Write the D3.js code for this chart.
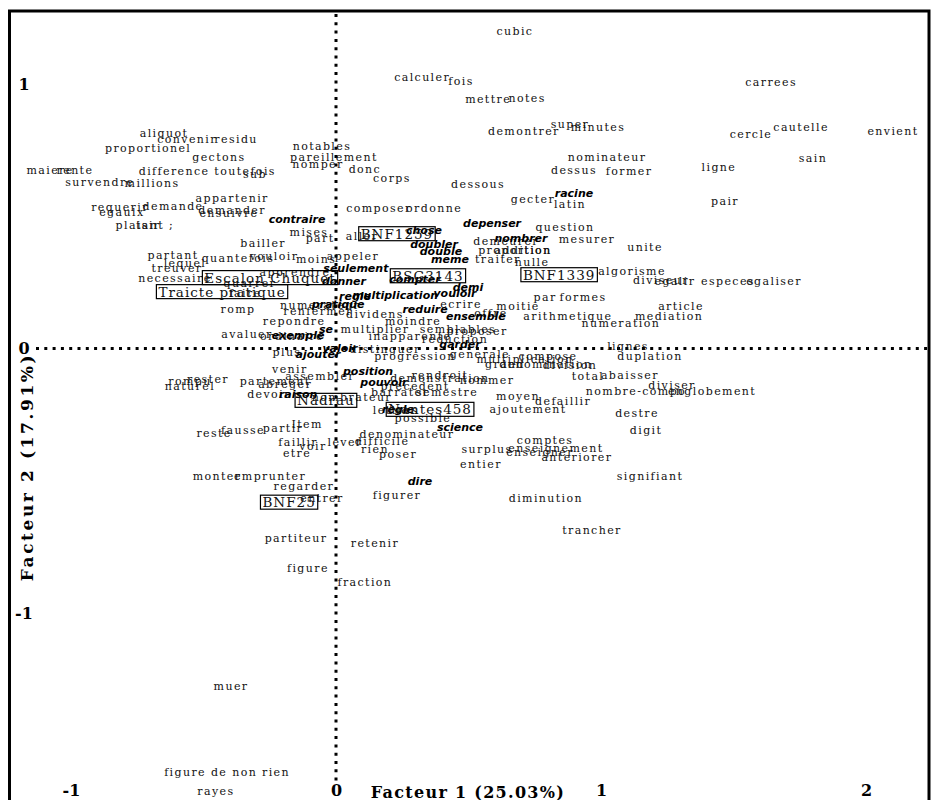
<!DOCTYPE html>
<html><head><meta charset="utf-8">
<script src="https://d3js.org/d3.v7.min.js"></script>
<style>
html,body{margin:0;padding:0;background:#fff;}
svg{display:block;}
.w{font-family:"DejaVu Serif",serif;font-size:11px;letter-spacing:1.4px;fill:#111;}
.k{font-family:"DejaVu Sans",sans-serif;font-size:11px;font-weight:bold;font-style:italic;fill:#000;}
.s{font-family:"DejaVu Serif",serif;font-size:13.5px;letter-spacing:1px;fill:#111;}
.tick text{font-family:"DejaVu Serif",serif;font-size:16px;font-weight:bold;fill:#000;}
.ttl{font-family:"DejaVu Serif",serif;font-size:16px;font-weight:bold;letter-spacing:1.3px;fill:#000;}
.ttly{font-family:"DejaVu Serif",serif;font-size:17px;font-weight:bold;letter-spacing:2.6px;fill:#000;}
</style></head>
<body>
<svg id="c" width="931" height="800"></svg>
<script>
// ---- data (factor coordinates) ----
const wordLabels = ["cubic","calculer","fois","mettre","notes","carrees","super","minutes","demontrer","cautelle","cercle","envient","sain","aliquot","convenir","residu","proportionel","notables","pareillement","nomper","donc","corps","gectons","nominateur","dessus","former","ligne","maiere","rente","survendre","millions","difference","toutefois","sub","dessous","appartenir","requerir","egaulx","demande","demander","ensuivre","composer","ordonne","gecter","latin","pair","plaisir","tant ;","question","mises","part","aller","demeurer","mesurer","unite","proportion","addition","traiter","nulle","bailler","partant","quantefois","vouloir","moins","appeler","lequel","treuver","necessaire","apprendre","algorisme","diviseur","egalir","especes","egaliser","quarrer","faire","romp","numerateur","renfermer","dividens","ecrire","moitie","par","formes","article","mediation","arithmetique","numeration","offre","repondre","moindre","multiplier","semblables","proposer","avaluer","ordinaire","inapparente","reduction","lignes","duplation","compose","multiplication","generale","grand","denomination","division","total","abaisser","diviser","nombre-compo","englobement","defaillir","destre","digit","plus","distinguer","progression","venir","assembler","abreger","partement","rendroit","demonstration","nommer","precedent","barrater","semestre","rester","rompu","naturel","devoir","nombrateur","moyen","lettres","ajoutement","possible","reste","fausse","partir","Item","faillir","lever","voir","etre","denominateur","difficile","rien","poser","comptes","surplus","enseignement","enseigner","anteriorer","entier","signifiant","monter","emprunter","regarder","entrer","figurer","diminution","trancher","partiteur","retenir","figure","fraction","muer","figure de non rien","rayes"];
const wordX = [0.675,0.325,0.472,0.574,0.721,1.642,0.883,0.989,0.709,1.755,1.566,2.102,1.800,-0.649,-0.562,-0.377,-0.709,-0.053,-0.008,-0.068,0.109,0.211,-0.442,1.023,0.898,1.106,1.445,-1.079,-0.985,-0.891,-0.694,-0.611,-0.343,-0.306,0.536,-0.392,-0.815,-0.808,-0.615,-0.392,-0.404,0.162,0.370,0.743,0.883,1.468,-0.747,-0.683,0.864,-0.102,-0.060,0.098,0.642,0.947,1.166,0.675,0.706,0.611,0.740,-0.275,-0.615,-0.370,-0.234,-0.075,0.064,-0.570,-0.600,-0.608,-0.155,1.117,1.226,1.279,1.479,1.653,-0.325,-0.343,-0.370,-0.060,-0.068,0.147,0.472,0.687,0.789,0.932,1.302,1.257,0.875,1.075,0.585,-0.158,0.291,0.147,0.460,0.532,-0.336,-0.166,0.279,0.449,1.102,1.185,0.800,0.713,0.543,0.638,0.792,0.883,0.951,1.109,1.268,1.132,1.419,0.857,1.136,1.170,-0.185,0.185,0.298,-0.174,-0.060,-0.192,-0.230,0.392,0.392,0.570,0.298,0.242,0.419,-0.483,-0.551,-0.551,-0.253,0.060,0.687,0.226,0.725,0.328,-0.460,-0.351,-0.200,-0.109,-0.143,0.034,-0.087,-0.147,0.268,0.174,0.147,0.234,0.789,0.570,0.830,0.770,0.909,0.547,1.185,-0.449,-0.249,-0.121,-0.053,0.230,0.792,0.966,-0.151,0.147,-0.106,0.109,-0.396,-0.411,-0.453];
const wordY = [1.200,1.023,1.008,0.940,0.947,1.004,0.845,0.834,0.819,0.834,0.808,0.819,0.717,0.811,0.789,0.792,0.755,0.762,0.721,0.694,0.675,0.642,0.721,0.721,0.672,0.668,0.683,0.672,0.672,0.626,0.623,0.668,0.668,0.657,0.619,0.566,0.532,0.513,0.536,0.521,0.509,0.528,0.528,0.562,0.543,0.555,0.464,0.464,0.457,0.438,0.415,0.423,0.404,0.411,0.381,0.370,0.370,0.336,0.325,0.396,0.351,0.340,0.347,0.336,0.347,0.321,0.302,0.264,0.287,0.291,0.257,0.253,0.253,0.253,0.245,0.208,0.147,0.162,0.140,0.128,0.166,0.158,0.192,0.192,0.158,0.121,0.121,0.094,0.132,0.102,0.102,0.072,0.072,0.064,0.053,0.045,0.045,0.034,0.008,-0.030,-0.030,-0.042,-0.023,-0.060,-0.060,-0.064,-0.106,-0.102,-0.140,-0.162,-0.162,-0.200,-0.245,-0.309,-0.015,-0.004,-0.030,-0.079,-0.106,-0.136,-0.125,-0.102,-0.113,-0.121,-0.143,-0.166,-0.166,-0.117,-0.125,-0.143,-0.174,-0.185,-0.181,-0.234,-0.230,-0.264,-0.321,-0.309,-0.302,-0.287,-0.355,-0.355,-0.370,-0.396,-0.325,-0.351,-0.381,-0.400,-0.347,-0.381,-0.377,-0.392,-0.411,-0.438,-0.483,-0.483,-0.483,-0.521,-0.566,-0.555,-0.566,-0.687,-0.717,-0.736,-0.830,-0.883,-1.279,-1.604,-1.675];

const keyLabels = ["contraire","racine","depenser","chose","doubler","double","meme","nombrer","seulement","donner","compter","demi","vouloir","multiplication","regle","pratique","reduire","ensemble","se","exemple","garder","ajouter","valoir","position","pouvoir","raison","regle","science","dire"];
const keyX = [-0.147,0.898,0.589,0.332,0.370,0.396,0.430,0.698,0.075,0.030,0.298,0.498,0.449,0.223,0.072,0.008,0.336,0.528,-0.038,-0.143,0.468,-0.068,0.015,0.121,0.181,-0.143,0.234,0.468,0.317];
const keyY = [0.487,0.585,0.472,0.445,0.392,0.366,0.336,0.415,0.302,0.253,0.260,0.230,0.208,0.200,0.196,0.166,0.147,0.121,0.072,0.049,0.015,-0.023,0.000,-0.087,-0.128,-0.174,-0.230,-0.298,-0.502];

const srcLabels = ["Traicte pratique","Escalon Chuquet","BNF1259","BSG3143","BNF1339","Nadrau","Nantes458","BNF25"];
const srcX = [-0.430,-0.249,0.230,0.347,0.842,-0.038,0.355,-0.177];
const srcY = [0.215,0.268,0.434,0.275,0.279,-0.196,-0.230,-0.581];

const xTicks = [-1,0,1,2];
const yTicks = [-1,0,1];
const xTitle = "Facteur 1 (25.03%)";
const yTitle = "Facteur 2 (17.91%)";

// ---- drawing ----
const svg = d3.select("#c");
const x = d3.scaleLinear().domain([-1,2]).range([71,866]);
const y = d3.scaleLinear().domain([-1,1]).range([613,84]);
const fL=9.5, fT=11, fR=929, fB=812;

// dotted axes through origin
svg.append("line").attr("x1",36).attr("x2",fR).attr("y1",y(0)).attr("y2",y(0))
  .attr("stroke","#000").attr("stroke-width",3).attr("stroke-dasharray","3,5.3");
svg.append("line").attr("x1",x(0)).attr("x2",x(0)).attr("y1",fT+3).attr("y2",784)
  .attr("stroke","#000").attr("stroke-width",3).attr("stroke-dasharray","3,5.3");

// words
const words = wordLabels.map((t,i)=>({t,x:wordX[i],y:wordY[i]}));
svg.append("g").selectAll("text").data(words).join("text")
  .attr("class","w").attr("x",d=>x(d.x)).attr("y",d=>y(d.y))
  .attr("text-anchor","middle").attr("dominant-baseline","central").text(d=>d.t);

const keys = keyLabels.map((t,i)=>({t,x:keyX[i],y:keyY[i]}));
svg.append("g").selectAll("text").data(keys).join("text")
  .attr("class","k").attr("x",d=>x(d.x)).attr("y",d=>y(d.y))
  .attr("text-anchor","middle").attr("dominant-baseline","central").text(d=>d.t);

const srcs = srcLabels.map((t,i)=>({t,x:srcX[i],y:srcY[i]}));
const sg = svg.append("g").selectAll("g").data(srcs).join("g");
sg.append("text").attr("class","s").attr("x",d=>x(d.x)).attr("y",d=>y(d.y))
  .attr("text-anchor","middle").attr("dominant-baseline","central").text(d=>d.t);
sg.each(function(){
  const g=d3.select(this); const b=g.select("text").node().getBBox();
  g.insert("rect","text").attr("x",b.x-2).attr("y",b.y+1).attr("width",b.width+4).attr("height",b.height-2)
   .attr("fill","none").attr("stroke","#000").attr("stroke-width",1.2);
});

// axes (tick labels only)
const ax = svg.append("g").attr("transform","translate(0,785)")
  .call(d3.axisBottom(x).tickValues(xTicks).tickSize(0).tickPadding(0).tickFormat(d=>String(d)));
ax.select(".domain").remove();
const ay = svg.append("g").attr("transform","translate(24,0)")
  .call(d3.axisLeft(y).tickValues(yTicks).tickSize(0).tickPadding(0).tickFormat(d=>String(d)));
ay.select(".domain").remove();
ay.selectAll(".tick text").attr("text-anchor","middle");

svg.append("text").attr("class","ttl").attr("x",468).attr("y",792)
  .attr("text-anchor","middle").attr("dominant-baseline","central").text(xTitle);
svg.append("text").attr("class","ttly").attr("transform","translate(27,467) rotate(-90)")
  .attr("text-anchor","middle").attr("dominant-baseline","central").text(yTitle);

// frame
svg.append("rect").attr("x",fL).attr("y",fT).attr("width",fR-fL).attr("height",fB-fT)
  .attr("fill","none").attr("stroke","#000").attr("stroke-width",3);
</script>
</body></html>
